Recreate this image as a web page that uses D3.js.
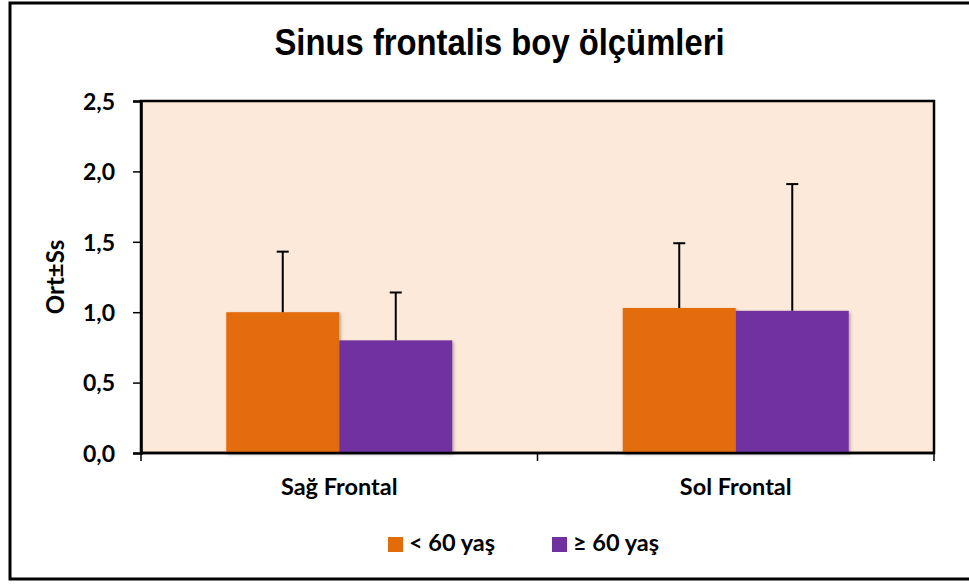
<!DOCTYPE html>
<html>
<head>
<meta charset="utf-8">
<script src="https://cdn.jsdelivr.net/npm/d3@7.9.0/dist/d3.min.js"></script>
<style>
  body { margin: 0; background: #fff; }
  svg { display: block; }
  .lbl { font-family: Lato, "Open Sans", sans-serif; font-weight: bold; fill: #000; }
</style>
</head>
<body>
<svg id="chart" width="969" height="584"></svg>
<script>
// data
const categories = ['Sağ Frontal', 'Sol Frontal'];
const groups = ['< 60 yaş', '≥ 60 yaş'];
const means = [[1.00, 0.80], [1.03, 1.01]];
const upper = [[1.43, 1.14], [1.49, 1.91]]; // mean + sd
const yTicks = [0, 0.5, 1.0, 1.5, 2.0, 2.5];
const colors = ['#E36C0A', '#7030A0'];

const svg = d3.select('#chart');
const margin = { left: 141, right: 35, top: 101, bottom: 131 };
const W = 969, H = 584;

// outer frame
svg.append('rect')
  .attr('x', 10).attr('y', 3)
  .attr('width', 975).attr('height', 576)
  .attr('fill', '#fff').attr('stroke', '#000').attr('stroke-width', 3);

svg.append('text')
  .attr('class', 'lbl')
  .attr('x', 499.5).attr('y', 55)
  .attr('text-anchor', 'middle')
  .style('font-family', '"Liberation Sans", Arial, sans-serif')
  .style('font-size', '37px')
  .attr('textLength', 450).attr('lengthAdjust', 'spacingAndGlyphs')
  .text('Sinus frontalis boy ölçümleri');

let x0 = d3.scaleBand().domain(categories).range([margin.left, W - margin.right]);
let y = d3.scaleLinear().domain([0, 2.5]).range([H - margin.bottom, margin.top]);
const barW = x0.bandwidth() * 0.285;

// plot background
svg.append('rect')
  .attr('x', margin.left).attr('y', margin.top)
  .attr('width', W - margin.right - margin.left)
  .attr('height', y(0) - margin.top)
  .attr('fill', '#FDE9D9')
  .attr('stroke', '#000').attr('stroke-width', 2.5);

const defs = svg.append('defs');
defs.append('filter').attr('id', 'sh')
  .attr('x', '-10%').attr('y', '-10%').attr('width', '130%').attr('height', '130%')
  .append('feDropShadow')
  .attr('dx', 1.5).attr('dy', 1.5).attr('stdDeviation', 1.5)
  .attr('flood-color', '#000').attr('flood-opacity', 0.3);

categories.forEach((c, ci) => {
  const cx = x0(c) + x0.bandwidth() / 2;
  groups.forEach((g, gi) => {
    const bx = cx - barW + gi * barW;
    svg.append('rect')
      .attr('x', bx).attr('y', y(means[ci][gi]))
      .attr('width', barW).attr('height', y(0) - y(means[ci][gi]))
      .attr('fill', colors[gi])
      .attr('filter', 'url(#sh)');
    const mx = bx + barW / 2;
    svg.append('line')
      .attr('x1', mx).attr('x2', mx)
      .attr('y1', y(means[ci][gi])).attr('y2', y(upper[ci][gi]))
      .attr('stroke', '#000').attr('stroke-width', 2);
    svg.append('line')
      .attr('x1', mx - 6).attr('x2', mx + 6)
      .attr('y1', y(upper[ci][gi])).attr('y2', y(upper[ci][gi]))
      .attr('stroke', '#000').attr('stroke-width', 2);
  });
});

// y axis
const yAxis = svg.append('g')
  .attr('transform', `translate(${margin.left},0)`)
  .call(d3.axisLeft(y).tickValues(yTicks).tickSize(8).tickPadding(18)
    .tickFormat(d => d3.format('.1f')(d).replace('.', ',')));
yAxis.select('.domain').attr('stroke', '#000').attr('stroke-width', 2.5);
yAxis.selectAll('.tick line').attr('stroke', '#000').attr('stroke-width', 1.5);
yAxis.selectAll('.tick text').attr('class', 'lbl').style('font-size', '23px').attr('dy', '0.36em');

// x axis line and tick marks at band edges
svg.append('line')
  .attr('x1', margin.left).attr('x2', W - margin.right)
  .attr('y1', y(0)).attr('y2', y(0))
  .attr('stroke', '#000').attr('stroke-width', 2.5);
const edges = [margin.left, x0(categories[1]), W - margin.right];
svg.selectAll('.xt').data(edges).join('line')
  .attr('x1', d => d).attr('x2', d => d)
  .attr('y1', y(0)).attr('y2', y(0) + 8)
  .attr('stroke', '#000').attr('stroke-width', 1.5);
svg.selectAll('.xl').data(categories).join('text')
  .attr('class', 'lbl')
  .attr('x', d => x0(d) + x0.bandwidth() / 2)
  .attr('y', 495)
  .attr('text-anchor', 'middle')
  .style('font-size', '23.5px')
  .text(d => d);

svg.append('text')
  .attr('class', 'lbl')
  .attr('transform', `translate(64,${(y(0) + margin.top) / 2}) rotate(-90)`)
  .attr('text-anchor', 'middle')
  .style('font-size', '24px')
  .text('Ort±Ss');

// legend
const legX = [388, 552];
groups.forEach((g, i) => {
  svg.append('rect')
    .attr('x', legX[i]).attr('y', 537)
    .attr('width', 15).attr('height', 15)
    .attr('fill', colors[i]);
  svg.append('text')
    .attr('class', 'lbl')
    .attr('x', legX[i] + 21).attr('y', 551)
    .style('font-size', '23.5px')
    .text(g);
});
</script>
</body>
</html>
